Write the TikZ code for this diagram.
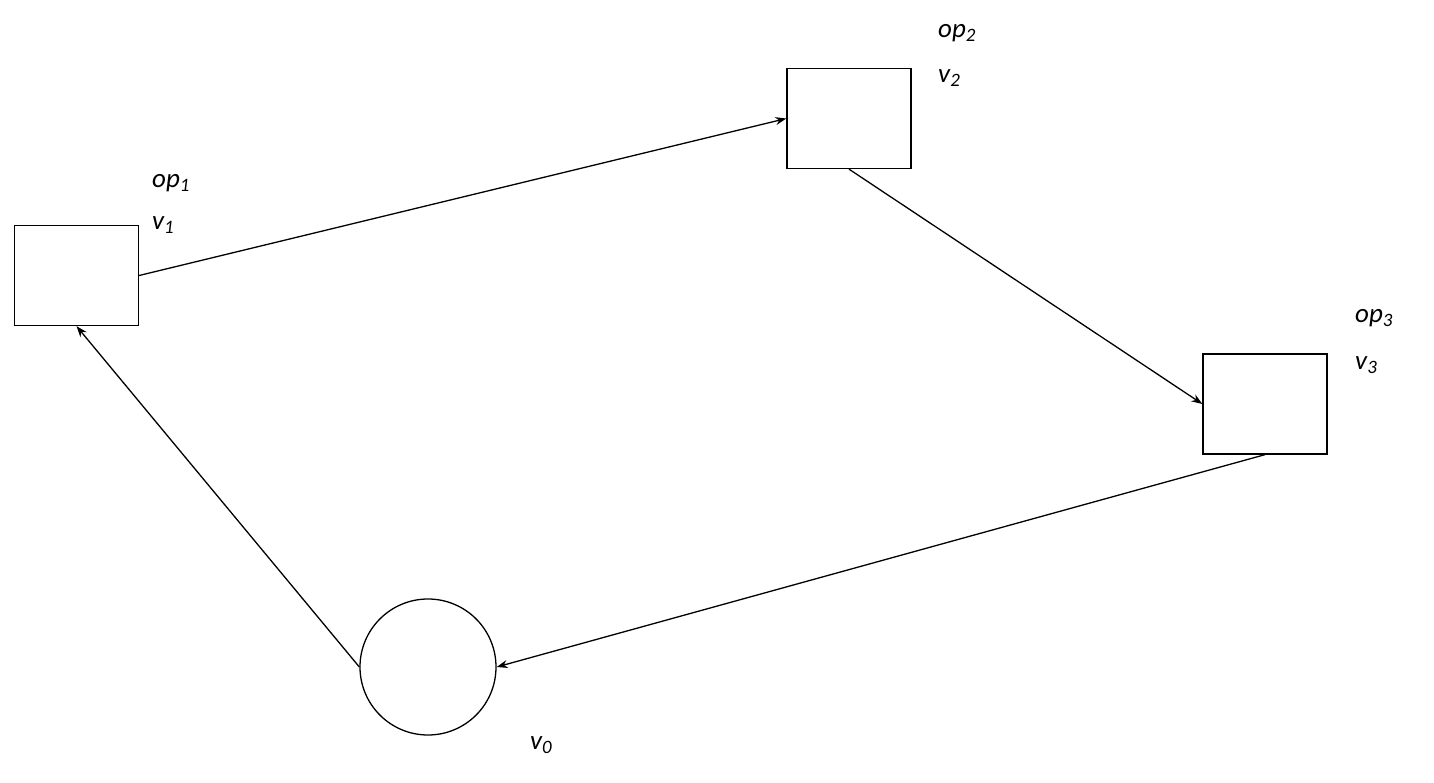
\documentclass[tikz,border=0pt]{standalone}
\usepackage{fontspec}
\setmainfont{Carlito}
\usetikzlibrary{arrows.meta}
\begin{document}
\begin{tikzpicture}[x=1pt,y=-1pt,
  box/.style={draw,line width=1.3pt,minimum width=124pt,minimum height=100pt,inner sep=0pt},
  circ/.style={draw,circle,line width=1.3pt,minimum size=136pt,inner sep=0pt},
  lbl/.style={anchor=west,inner sep=0pt,font=\fontsize{27}{30}\selectfont\itshape},
  arr/.style={-{Stealth[length=11pt,width=8pt]},line width=1.3pt}]
\useasboundingbox (0,0) rectangle (1434,783);
\node[box] (v1) at (76.5,275.5) {};
\node[box] (v2) at (849,118.5) {};
\node[box] (v3) at (1265,404) {};
\node[circ] (v0) at (428,667) {};
\node[lbl] (l1a) at (152,183) {op\textsubscript{1}};
\node[lbl] (l1b) at (152,225) {v\textsubscript{1}};
\node[lbl] (l2a) at (938,33) {op\textsubscript{2}};
\node[lbl] (l2b) at (938,78) {v\textsubscript{2}};
\node[lbl] (l3a) at (1355,318) {op\textsubscript{3}};
\node[lbl] (l3b) at (1355,365) {v\textsubscript{3}};
\node[lbl] (l0) at (530,745) {v\textsubscript{0}};
\draw[arr] (v1.east) -- (v2.west);
\draw[arr] (v2.south) -- (v3.west);
\draw[arr] (v3.south) -- (v0.east);
\draw[arr] (v0.west) -- (v1.south);
\end{tikzpicture}
\end{document}
